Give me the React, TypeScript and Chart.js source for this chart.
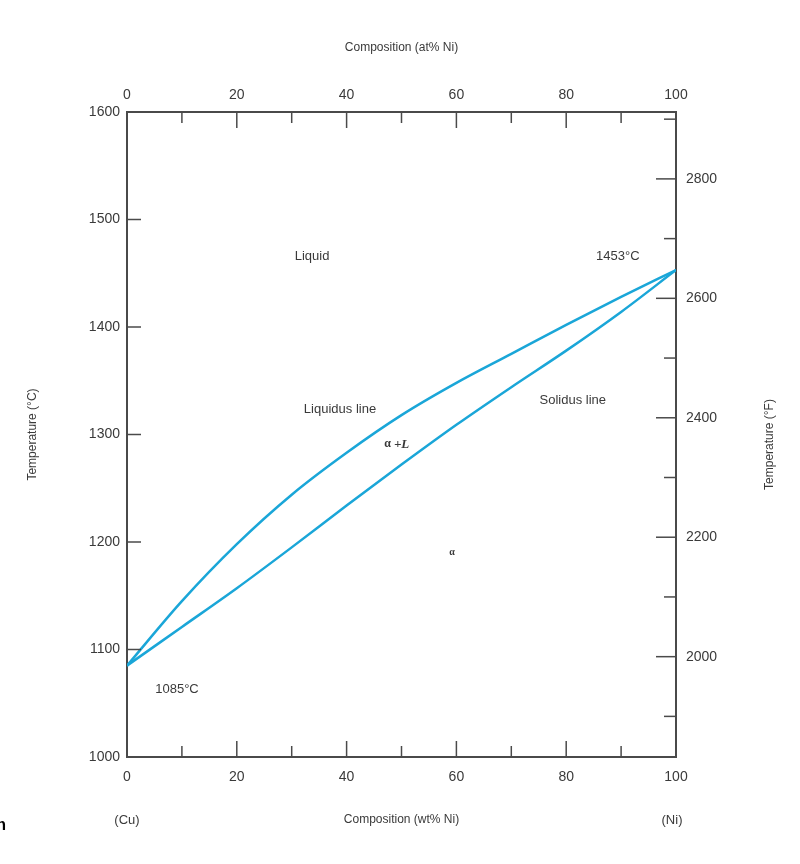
import React, { useEffect, useRef } from "react";
import { Chart, registerables } from "chart.js";

Chart.register(...registerables);

// composition (wt% Ni)
const compositions = [0, 10, 20, 30, 40, 50, 60, 70, 80, 90, 100];
// liquidus temperature (°C)
const liquidusT = [1085, 1145, 1198, 1244, 1283, 1318, 1348, 1375, 1402, 1428, 1453];
// solidus temperature (°C)
const solidusT = [1085, 1121, 1157, 1195, 1234, 1272, 1309, 1344, 1378, 1414, 1453];

const celsiusTicks = [1000, 1100, 1200, 1300, 1400, 1500, 1600];
const fahrenheitTicks = [1900, 2000, 2100, 2200, 2300, 2400, 2500, 2600, 2700, 2800, 2900];
const fahrenheitLabelled = [2000, 2200, 2400, 2600, 2800];
const compositionTicks = [0, 10, 20, 30, 40, 50, 60, 70, 80, 90, 100];
const compositionLabelled = [0, 20, 40, 60, 80, 100];

// region labels placed at data coordinates (wt% Ni, °C)
const regionLabels = [
  { text: "Liquid", x: 33.7, y: 1466 },
  { text: "1453°C", x: 89.4, y: 1466 },
  { text: "Liquidus line", x: 38.8, y: 1323 },
  { text: "Solidus line", x: 81.2, y: 1332 },
  { text: "1085°C", x: 9.1, y: 1063 },
];

const LINE_COLOR = "#1aa6d8";
const AXIS_COLOR = "#4a4a4a";
const TEXT_COLOR = "#3a3a3a";
const FONT = "'Liberation Sans', Arial, sans-serif";

const cToF = (c: number) => c * 1.8 + 32;

const decorPlugin = {
  id: "decor",
  afterDatasetsDraw(chart: any) {
    const { ctx, scales } = chart;
    const x = scales.x, xt = scales.xTop, y = scales.y, yf = scales.yF;
    const area = chart.chartArea;
    ctx.save();
    ctx.strokeStyle = AXIS_COLOR;
    ctx.lineWidth = 1.5;
    // bottom & top inward ticks
    compositionTicks.forEach((v) => {
      const major = compositionLabelled.includes(v);
      if (v === 0 || v === 100) return;
      const px = x.getPixelForValue(v);
      const len = major ? 16 : 11;
      ctx.beginPath();
      ctx.moveTo(px, area.bottom);
      ctx.lineTo(px, area.bottom - len);
      ctx.stroke();
      const pt = xt.getPixelForValue(v);
      ctx.beginPath();
      ctx.moveTo(pt, area.top);
      ctx.lineTo(pt, area.top + len);
      ctx.stroke();
    });
    // left inward ticks
    celsiusTicks.forEach((v) => {
      if (v === 1000 || v === 1600) return;
      const py = y.getPixelForValue(v);
      ctx.beginPath();
      ctx.moveTo(area.left, py);
      ctx.lineTo(area.left + 14, py);
      ctx.stroke();
    });
    // right inward ticks
    fahrenheitTicks.forEach((v) => {
      const major = fahrenheitLabelled.includes(v);
      const py = yf.getPixelForValue(v);
      ctx.beginPath();
      ctx.moveTo(area.right, py);
      ctx.lineTo(area.right - (major ? 20 : 12), py);
      ctx.stroke();
    });

    // region labels
    ctx.fillStyle = TEXT_COLOR;
    ctx.font = `13px ${FONT}`;
    ctx.textAlign = "center";
    ctx.textBaseline = "middle";
    regionLabels.forEach((l) => {
      ctx.fillText(l.text, x.getPixelForValue(l.x), y.getPixelForValue(l.y));
    });
    // alpha + L
    const ax = x.getPixelForValue(48.8), ay = y.getPixelForValue(1291);
    ctx.font = `bold 12px 'Liberation Serif', 'DejaVu Serif', serif`;
    ctx.textAlign = "right";
    ctx.fillText("α", ax - 4, ay);
    ctx.textAlign = "left";
    ctx.font = `bold italic 13px 'Liberation Serif', 'DejaVu Serif', serif`;
    ctx.fillText("+L", ax - 1, ay);
    // alpha in solid region
    ctx.font = `bold 10px 'Liberation Serif', serif`;
    ctx.textAlign = "center";
    ctx.fillText("α", x.getPixelForValue(59.2), y.getPixelForValue(1190));

    // end-member labels below the bottom axis
    ctx.font = `13px ${FONT}`;
    ctx.fillText("(Cu)", x.getPixelForValue(0), 820);
    ctx.fillText("(Ni)", x.getPixelForValue(100) - 4, 820);

    // right axis title (reads bottom to top)
    ctx.save();
    ctx.translate(770, (area.top + area.bottom) / 2 + 10);
    ctx.rotate(-Math.PI / 2);
    ctx.font = `12px ${FONT}`;
    ctx.fillText("Temperature (°F)", 0, 0);
    ctx.restore();

    // cut-off caption letter at the page edge
    ctx.font = `bold 16px ${FONT}`;
    ctx.fillStyle = "#000";
    ctx.textAlign = "right";
    ctx.fillText("n", 6, 826);
    ctx.restore();
  },
};

const plain = (v: any) => String(v);

export default function App() {
  const canvasRef = useRef<HTMLCanvasElement | null>(null);

  useEffect(() => {
    if (!canvasRef.current) return;
    const liq = compositions.map((c, i) => ({ x: c, y: liquidusT[i] }));
    const sol = compositions.map((c, i) => ({ x: c, y: solidusT[i] }));
    const tickFont = { family: FONT, size: 14 };
    const titleFont = { family: FONT, size: 12 };
    const chart = new Chart(canvasRef.current, {
      type: "scatter",
      data: {
        datasets: [
          {
            label: "Liquidus",
            data: liq,
            showLine: true,
            borderColor: LINE_COLOR,
            borderWidth: 2.5,
            pointRadius: 0,
            cubicInterpolationMode: "monotone",
            xAxisID: "x",
            yAxisID: "y",
          },
          {
            label: "Solidus",
            data: sol,
            showLine: true,
            borderColor: LINE_COLOR,
            borderWidth: 2.5,
            pointRadius: 0,
            cubicInterpolationMode: "monotone",
            xAxisID: "x",
            yAxisID: "y",
          },
        ],
      },
      options: {
        animation: false,
        responsive: false,
        maintainAspectRatio: false,
        events: [],
        layout: { padding: 0 },
        plugins: { legend: { display: false }, tooltip: { enabled: false } },
        scales: {
          x: {
            type: "linear",
            position: "bottom",
            min: 0,
            max: 100,
            afterBuildTicks: (s: any) => {
              s.ticks = compositionLabelled.map((v) => ({ value: v }));
            },
            afterFit: (s: any) => {
              s.height = 107;
            },
            ticks: { color: TEXT_COLOR, font: tickFont, padding: 12, maxRotation: 0, autoSkip: false, callback: plain },
            grid: { display: false, drawTicks: false },
            border: { display: true, color: AXIS_COLOR, width: 2 },
            title: { display: true, text: "Composition (wt% Ni)", color: TEXT_COLOR, font: titleFont, padding: 37 },
          },
          xTop: {
            type: "linear",
            position: "top",
            min: 0,
            max: 100,
            afterBuildTicks: (s: any) => {
              s.ticks = compositionLabelled.map((v) => ({ value: v }));
            },
            afterFit: (s: any) => {
              s.height = 112;
            },
            ticks: { color: TEXT_COLOR, font: tickFont, padding: 8, maxRotation: 0, autoSkip: false, callback: plain },
            grid: { display: false, drawTicks: false },
            border: { display: true, color: AXIS_COLOR, width: 2 },
            title: { display: true, text: "Composition (at% Ni)", color: TEXT_COLOR, font: titleFont, padding: 40 },
          },
          y: {
            type: "linear",
            position: "left",
            min: 1000,
            max: 1600,
            afterBuildTicks: (s: any) => {
              s.ticks = celsiusTicks.map((v) => ({ value: v }));
            },
            afterFit: (s: any) => {
              s.width = 127;
            },
            ticks: { color: TEXT_COLOR, font: tickFont, padding: 7, autoSkip: false, callback: plain },
            grid: { display: false, drawTicks: false },
            border: { display: true, color: AXIS_COLOR, width: 2 },
            title: { display: true, text: "Temperature (°C)", color: TEXT_COLOR, font: titleFont, padding: 25 },
          },
          yF: {
            type: "linear",
            position: "right",
            min: cToF(1000),
            max: cToF(1600),
            afterBuildTicks: (s: any) => {
              s.ticks = fahrenheitLabelled.map((v) => ({ value: v }));
            },
            afterFit: (s: any) => {
              s.width = 124;
            },
            ticks: { color: TEXT_COLOR, font: tickFont, padding: 10, autoSkip: false, callback: plain },
            grid: { display: false, drawTicks: false },
            border: { display: true, color: AXIS_COLOR, width: 2 },
          },
        },
      } as any,
      plugins: [decorPlugin],
    });
    return () => chart.destroy();
  }, []);

  return (
    <div style={{ position: "absolute", left: 0, top: 0, width: 800, height: 864, background: "#fff" }}>
      <canvas ref={canvasRef} width={800} height={864} style={{ width: 800, height: 864, display: "block" }} />
    </div>
  );
}
